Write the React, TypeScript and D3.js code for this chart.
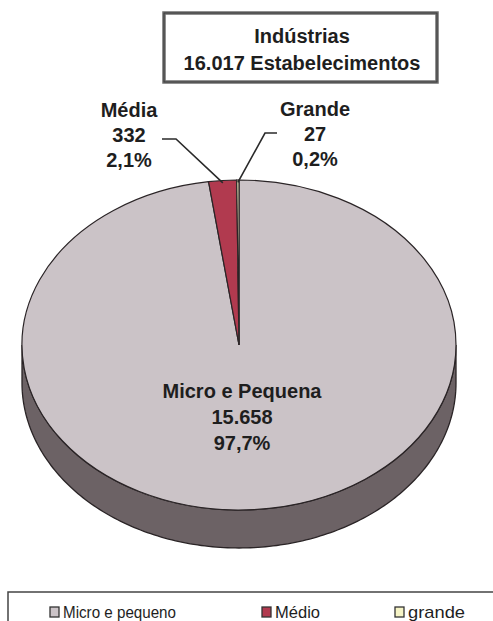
import * as d3 from 'd3';
import React from 'react';

// Chart data.
const categories = ['Micro e Pequena', 'Média', 'Grande'];
const counts = [15658, 332, 27];
const countLabels = ['15.658', '332', '27'];
const percentLabels = ['97,7%', '2,1%', '0,2%'];
const legendLabels = ['Micro e pequeno', 'Médio', 'grande'];
const titleLines = ['Indústrias', '16.017 Estabelecimentos'];

const colors = ['#cbc3c7', '#b13a4f', '#f6f4c6'];
const sideColor = '#6c6265';
const textColor = '#1e1e1e';
const font = '"Liberation Sans", Arial, sans-serif';

const App = (): React.ReactElement => {
    const width = 493;
    const height = 621;

    // Pie geometry (elliptical, tilted).
    const cx = 239;
    const cy = 345;
    const rx = 217;
    const ry = 165;
    const depth = 38;

    const pie = d3.pie<number>().sort(null).value((d) => d);
    const slices = pie(counts);
    const arc = d3.arc<d3.PieArcDatum<number>>().innerRadius(0).outerRadius(rx);

    // Point on the top ellipse for a given pie angle (0 = top, clockwise).
    const onEllipse = (a: number, k = 1): [number, number] => [
        cx + rx * k * Math.sin(a),
        cy - ry * k * Math.cos(a),
    ];

    // Side (front half) of the pie.
    const ts = d3.range(0, 181).map((d) => (d * Math.PI) / 180);
    const upper = ts.map((t) => [cx + rx * Math.cos(t), cy + ry * Math.sin(t)] as [number, number]);
    const lower = ts
        .slice()
        .reverse()
        .map((t) => [cx + rx * Math.cos(t), cy + depth + ry * Math.sin(t)] as [number, number]);
    const line = d3.line();
    const sidePath = line([...upper, ...lower]) + 'Z';

    // Outside labels and leaders for small slices.
    const outside = [
        { i: 1, cx: 129, y0: 117, elbow: [176, 139] as [number, number], end: [162, 139] as [number, number] },
        { i: 2, cx: 315, y0: 116, elbow: [265, 133] as [number, number], end: [277, 133] as [number, number] },
    ];
    const lineGap = 25;

    // Legend layout.
    const legendX = [50, 262, 395];
    const legendTextLen = [113, 45, 57];

    return (
        <svg
            width={width}
            height={height}
            style={{ position: 'absolute', left: 0, top: 0, background: '#fff' }}
            fontFamily={font}
        >
            {/* Title box */}
            <rect x={164} y={13} width={273} height={69} fill="#fff" stroke="#6e6e6e" strokeWidth={3.5} />
            <rect x={164} y={13} width={273} height={69} fill="none" stroke="#333" strokeWidth={0.8} />
            {titleLines.map((t, i) => (
                <text
                    key={t}
                    x={302}
                    y={43 + i * 27}
                    textAnchor="middle"
                    fontSize={20}
                    fontWeight="bold"
                    fill={textColor}
                >
                    {t}
                </text>
            ))}

            {/* Pie side */}
            <path d={sidePath} fill={sideColor} stroke="#2a2426" strokeWidth={1.3} />

            {/* Pie top */}
            <g transform={`translate(${cx},${cy}) scale(1,${ry / rx})`}>
                {slices.map((s, i) => (
                    <path
                        key={categories[i]}
                        d={arc(s) as string}
                        fill={colors[i]}
                        stroke="#2a2426"
                        strokeWidth={1.2}
                        vectorEffect="non-scaling-stroke"
                    />
                ))}
            </g>

            {/* Leader lines and outside labels */}
            {outside.map((o) => {
                const s = slices[o.i];
                const mid = (s.startAngle + s.endAngle) / 2;
                const start = onEllipse(mid, 0.985);
                return (
                    <g key={categories[o.i]}>
                        <path
                            d={line([start, o.elbow, o.end]) as string}
                            fill="none"
                            stroke="#2a2a2a"
                            strokeWidth={1.6}
                        />
                        {[categories[o.i], countLabels[o.i], percentLabels[o.i]].map((t, j) => (
                            <text
                                key={j}
                                x={o.cx}
                                y={o.y0 + j * lineGap}
                                textAnchor="middle"
                                fontSize={20}
                                fontWeight="bold"
                                fill={textColor}
                            >
                                {t}
                            </text>
                        ))}
                    </g>
                );
            })}

            {/* Inside label */}
            {[categories[0], countLabels[0], percentLabels[0]].map((t, j) => (
                <text
                    key={j}
                    x={242}
                    y={398 + j * 26}
                    textAnchor="middle"
                    fontSize={20}
                    fontWeight="bold"
                    fill={textColor}
                >
                    {t}
                </text>
            ))}

            {/* Legend */}
            <rect x={8} y={592} width={500} height={60} fill="#fff" stroke="#444" strokeWidth={1.5} />
            {legendLabels.map((t, i) => (
                <g key={t}>
                    <rect
                        x={legendX[i]}
                        y={607}
                        width={9}
                        height={10}
                        fill={colors[i]}
                        stroke="#333"
                        strokeWidth={1.3}
                    />
                    <text
                        x={legendX[i] + 13}
                        y={618}
                        fontSize={17}
                        fill={textColor}
                        textLength={legendTextLen[i]}
                        lengthAdjust="spacingAndGlyphs"
                    >
                        {t}
                    </text>
                </g>
            ))}
        </svg>
    );
};

export default App;
